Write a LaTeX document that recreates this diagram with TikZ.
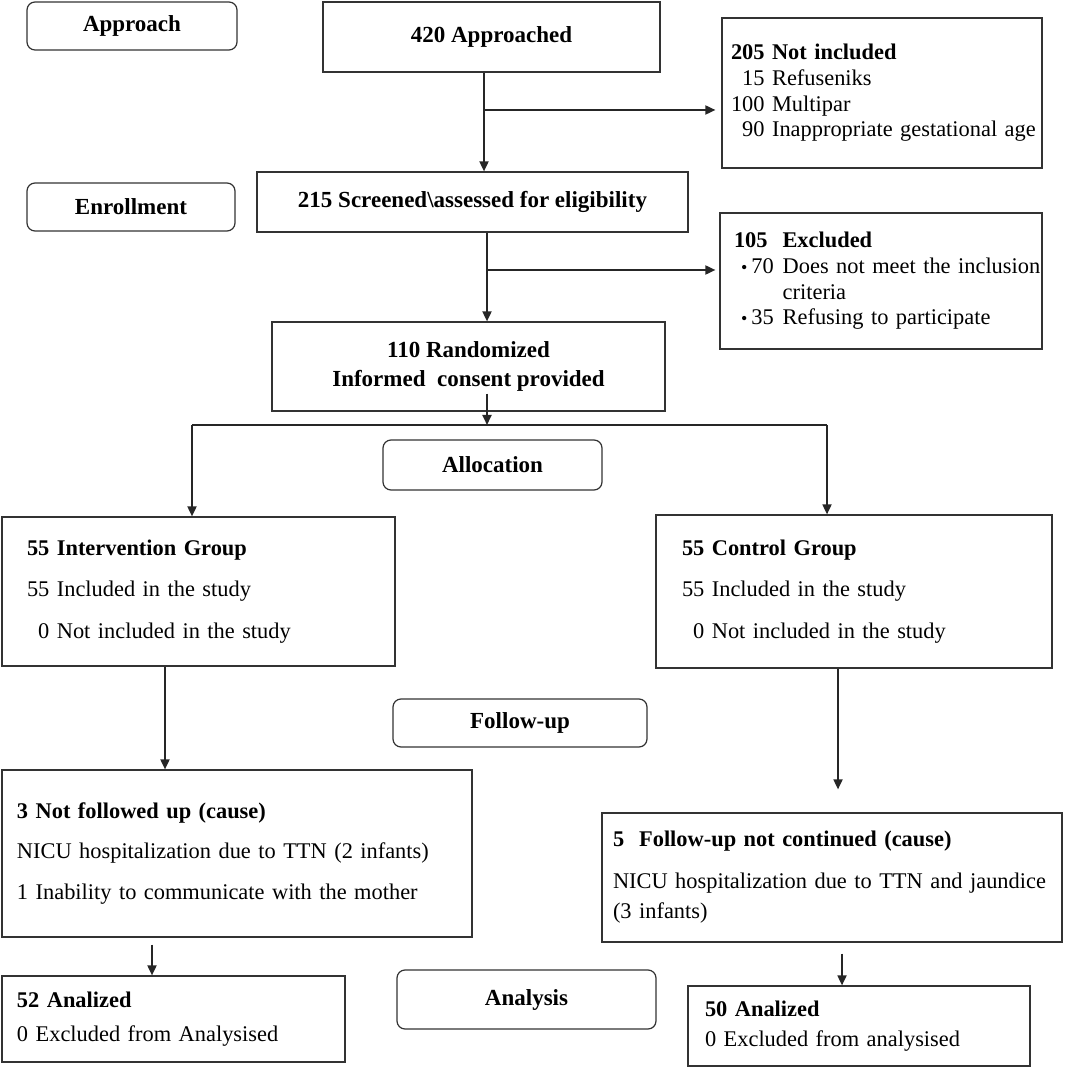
\documentclass[tikz,border=0pt]{standalone}
\usepackage{fontspec}
\setmainfont{Liberation Serif}
\usetikzlibrary{arrows.meta, positioning, calc}

\begin{document}
\begin{tikzpicture}[
        x=0.5pt, y=-0.5pt,
        >={Triangle[length=5pt, width=4.5pt]},
        every node/.style={font=\fontsize{11.2}{12.8}\selectfont},
        box/.style={draw=black!80, line width=0.6pt, inner ysep=0pt},
        centerbox/.style={box, align=center, font=\fontsize{11.5}{12.8}\selectfont\bfseries},
        listbox/.style={box, align=left},
        stagebox/.style={box, rounded corners=4pt, font=\fontsize{11.5}{12.8}\selectfont\bfseries},
        flow/.style={->, line width=0.9pt, black!85}
    ]
    \useasboundingbox (0,0) rectangle (1080,1068);

    % --- Stage labels ---
    \node[stagebox, minimum width=105pt, minimum height=24pt] (approach) at (132,26) {Approach};
    \node[stagebox, minimum width=104pt, minimum height=24pt] (enroll) at (131,207) {Enrollment};
    \node[stagebox, minimum width=109.5pt, minimum height=25pt] (alloc) at (492.5,465) {Allocation};
    \node[stagebox, minimum width=127pt, minimum height=24pt] (followup) at (520,723) {Follow-up};
    \node[stagebox, minimum width=129.5pt, minimum height=29.5pt] (analysis) at (526.5,999.5) {Analysis};

    % --- Enrollment column ---
    \node[centerbox, minimum width=168.5pt, minimum height=35pt] (approached) at (491.5,37) {420 Approached};
    \node[centerbox, minimum width=215.5pt, minimum height=30pt] (screened) at (472.5,202) {215 Screened\textbackslash assessed for eligibility};
    \node[centerbox, minimum width=196.5pt, minimum height=44.5pt] (random) at (468.5,366.5) {110 Randomized\\[1.5pt] Informed\ \ consent provided};

    % side boxes
    \node[listbox, inner xsep=4.5pt, text width=151pt, minimum height=75pt] (notincl) at (882,93) {\textbf{205 Not included}\\
        \hphantom{0}15 Refuseniks\\
        100 Multipar\\
        \mbox{\hphantom{0}90 Inappropriate gestational age}};
    \node[listbox, inner xsep=7pt, text width=147pt, minimum height=68pt] (excl) at (881,281) {\textbf{105\ \ Excluded}\\
        \mbox{\hspace{3.5pt}{\small\textbullet}\hspace{2pt}70\hspace{4.5pt}Does not meet the inclusion}\\
        \mbox{\hspace{3.5pt}\phantom{{\small\textbullet}\hspace{2pt}70\hspace{4.5pt}}criteria}\\
        \mbox{\hspace{3.5pt}{\small\textbullet}\hspace{2pt}35\hspace{4.5pt}Refusing to participate}};

    % --- Group boxes ---
    \node[listbox, inner xsep=12.5pt, text width=171.5pt, minimum height=74.5pt] (interv) at (198.5,591.5) {\textbf{55 Intervention Group}\\[8pt]
        55 Included in the study\\[8pt]
        \hphantom{0}0 Not included in the study};
    \node[listbox, inner xsep=13pt, text width=172pt, minimum height=76.5pt] (control) at (854,591.5) {\textbf{55 Control Group}\\[8pt]
        55 Included in the study\\[8pt]
        \hphantom{0}0 Not included in the study};

    % --- Follow-up boxes ---
    \node[listbox, inner xsep=7.5pt, text width=220pt, minimum height=83.5pt] (notfol) at (237,853.5) {\textbf{3 Not followed up (cause)}\\[7.5pt]
        \mbox{NICU hospitalization due to TTN (2 infants)}\\[7.5pt]
        \mbox{1 Inability to communicate with the mother}};
    \node[listbox, inner xsep=5.5pt, text width=219pt, minimum height=64.5pt] (fucont) at (832,877.5) {\textbf{5\ \ Follow-up not continued (cause)}\\[8pt]
        \mbox{NICU hospitalization due to TTN and jaundice}\\[2.5pt]
        (3 infants)};

    % --- Analysis boxes ---
    \node[listbox, inner xsep=7.5pt, text width=156.5pt, minimum height=43pt] (ana1) at (173.5,1019) {\textbf{52 Analized}\\[4pt]
        0 Excluded from Analysised};
    \node[listbox, inner xsep=8.5pt, text width=154pt, minimum height=40pt] (ana2) at (859,1026) {\textbf{50 Analized}\\[2.5pt]
        0 Excluded from analysised};

    % --- Connectors ---
    \coordinate (trunkA) at (484,110);
    \coordinate (trunkB) at (487,270);
    \coordinate (splitC) at (487,425);
    \coordinate (allocL) at (192,425);
    \coordinate (allocR) at (827,425);
    \coordinate (dropL) at (165,0);
    \coordinate (dropR) at (838,0);
    \coordinate (anaL) at (152,0);
    \coordinate (anaR) at (842,0);

    \draw[flow] (approached.south -| trunkA) -- (screened.north -| trunkA);
    \draw[flow, shorten >=3pt] (trunkA) -- (trunkA -| notincl.west);
    \draw[flow] (screened.south -| trunkB) -- (random.north -| trunkB);
    \draw[flow, shorten >=2pt] (trunkB) -- (trunkB -| excl.west);
    \draw[flow] ($(random.south -| splitC)+(0,-18)$) -- (splitC);

    \draw[line width=1.4pt, black!85] (allocL) -- (allocR);
    \draw[flow] (allocL) -- (allocL |- interv.north);
    \draw[flow] (allocR) -- (allocR |- control.north);

    \draw[flow] (interv.south -| dropL) -- (notfol.north -| dropL);
    \draw[flow, shorten >=11.5pt] (control.south -| dropR) -- (fucont.north -| dropR);
    \draw[flow, shorten <=3.5pt] (notfol.south -| anaL) -- (ana1.north -| anaL);
    \draw[flow, shorten <=5.5pt] (fucont.south -| anaR) -- (ana2.north -| anaR);
\end{tikzpicture}
\end{document}
